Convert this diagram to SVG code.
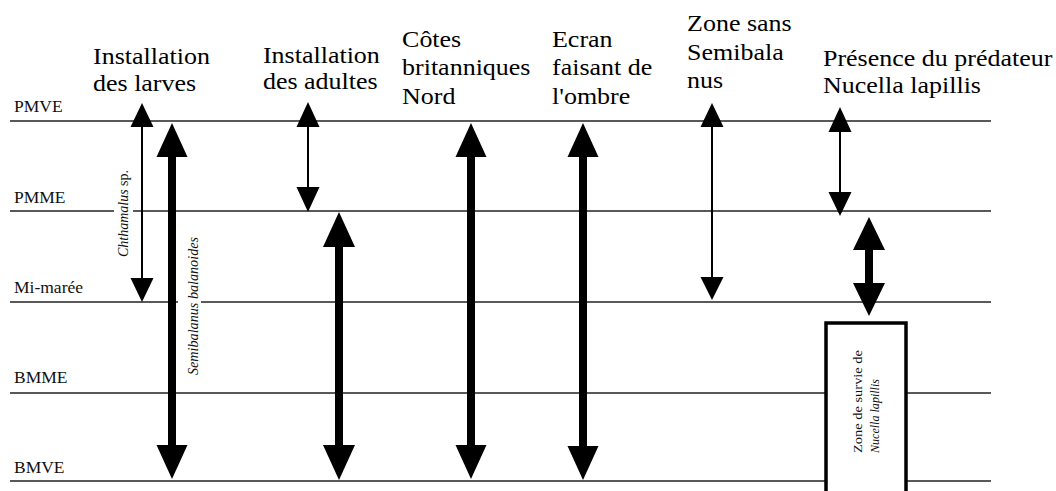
<svg xmlns="http://www.w3.org/2000/svg" width="1056" height="491" viewBox="0 0 1056 491">
<style>
.lvl{stroke:#222;stroke-width:1.6;fill:none}
.lbl{font-family:"Liberation Serif","Times New Roman",serif;font-size:17.5px;fill:#111}
.ttl{font-family:"Liberation Serif","Times New Roman",serif;font-size:23px;fill:#000}
.rot{font-family:"Liberation Serif","Times New Roman",serif;font-size:14px;fill:#111}
.it{font-style:italic}
.thin line{stroke:#000;stroke-width:2}
.thick line{stroke:#000;stroke-width:8}
.thin polygon,.thick polygon{fill:#000}
.bg{fill:#fff}
</style>
<rect width="1056" height="491" fill="#fff"/>

<g id="levels">
  <line class="lvl" x1="10" y1="121" x2="991" y2="121"/>
  <line class="lvl" x1="10" y1="211" x2="991" y2="211"/>
  <line class="lvl" x1="10" y1="302" x2="991" y2="302"/>
  <line class="lvl" x1="10" y1="393" x2="991" y2="393"/>
  <line class="lvl" x1="10" y1="481" x2="991" y2="481"/>
  <text class="lbl" x="14" y="112">PMVE</text>
  <text class="lbl" x="14" y="203">PMME</text>
  <text class="lbl" x="14" y="293">Mi-marée</text>
  <text class="lbl" x="14" y="383">BMME</text>
  <text class="lbl" x="14" y="473">BMVE</text>
</g>

<g id="titles" transform="scale(1.13,1)">
  <g id="title-larves">
    <text class="ttl" x="82.3" y="64">Installation</text>
    <text class="ttl" x="82.3" y="91">des larves</text>
  </g>
  <g id="title-adultes">
    <text class="ttl" x="232.7" y="63">Installation</text>
    <text class="ttl" x="232.7" y="89">des adultes</text>
  </g>
  <g id="title-cotes">
    <text class="ttl" x="355.8" y="47">Côtes</text>
    <text class="ttl" x="355.8" y="75">britanniques</text>
    <text class="ttl" x="355.8" y="104">Nord</text>
  </g>
  <g id="title-ecran">
    <text class="ttl" x="488.5" y="47">Ecran</text>
    <text class="ttl" x="488.5" y="75">faisant de</text>
    <text class="ttl" x="488.5" y="104">l'ombre</text>
  </g>
  <g id="title-zone">
    <text class="ttl" x="608" y="31">Zone sans</text>
    <text class="ttl" x="608" y="60">Semibala</text>
    <text class="ttl" x="608" y="88">nus</text>
  </g>
  <g id="title-predateur">
    <text class="ttl" x="728.3" y="66">Présence du prédateur</text>
    <text class="ttl" x="728.3" y="93">Nucella lapillis</text>
  </g>
</g>

<g id="species-labels">
  <rect class="bg" x="114" y="170" width="19" height="87"/>
  <text class="rot" transform="translate(128,257) rotate(-90)" textLength="87" lengthAdjust="spacingAndGlyphs"><tspan class="it">Chthamalus</tspan> sp.</text>
  <rect class="bg" x="178" y="237" width="23" height="138"/>
  <text class="rot it" transform="translate(198,375) rotate(-90)" textLength="138" lengthAdjust="spacingAndGlyphs">Semibalanus balanoides</text>
</g>

<g id="survival-zone">
  <rect x="826" y="323" width="80" height="180" fill="#fff" stroke="#000" stroke-width="3.5"/>
  <text class="rot" style="font-size:13px" transform="translate(862,453) rotate(-90)" textLength="103" lengthAdjust="spacingAndGlyphs">Zone de survie de</text>
  <text class="rot it" style="font-size:13px" transform="translate(879,453) rotate(-90)" textLength="74" lengthAdjust="spacingAndGlyphs">Nucella lapillis</text>
</g>

<g id="connectors">
  <g class="thin">
    <line x1="142" y1="125" x2="142" y2="280"/>
    <polygon points="142,103 130.5,127 153.5,127"/>
    <polygon points="142,302 130.5,278 153.5,278"/>
  </g>
  <g class="thick">
    <line x1="172" y1="150" x2="172" y2="452"/>
    <polygon points="172,123 156.5,157 187.5,157"/>
    <polygon points="172,479 156.5,445 187.5,445"/>
  </g>
  <g class="thin">
    <line x1="308" y1="124" x2="308" y2="190"/>
    <polygon points="308,102 296.5,127 319.5,127"/>
    <polygon points="308,212 296.5,187 319.5,187"/>
  </g>
  <g class="thick">
    <line x1="339" y1="240" x2="339" y2="452"/>
    <polygon points="339,212 323,247 355,247"/>
    <polygon points="339,480 323,445 355,445"/>
  </g>
  <g class="thick">
    <line x1="471" y1="150" x2="471" y2="452"/>
    <polygon points="471,123 455.5,157 486.5,157"/>
    <polygon points="471,479 455.5,445 486.5,445"/>
  </g>
  <g class="thick">
    <line x1="583" y1="150" x2="583" y2="452"/>
    <polygon points="583,123 567.5,157 598.5,157"/>
    <polygon points="583,480 567.5,446 598.5,446"/>
  </g>
  <g class="thin">
    <line x1="712" y1="125" x2="712" y2="280"/>
    <polygon points="712,103 700.5,127 723.5,127"/>
    <polygon points="712,300 700.5,277 723.5,277"/>
  </g>
  <g class="thin">
    <line x1="840" y1="129" x2="840" y2="196"/>
    <polygon points="840,107 828.5,132 851.5,132"/>
    <polygon points="840,216 828.5,192 851.5,192"/>
  </g>
  <g class="thick">
    <line x1="869" y1="245" x2="869" y2="288"/>
    <polygon points="869,217 853,250 885,250"/>
    <polygon points="869,316 853,283 885,283"/>
  </g>
</g>
</svg>
